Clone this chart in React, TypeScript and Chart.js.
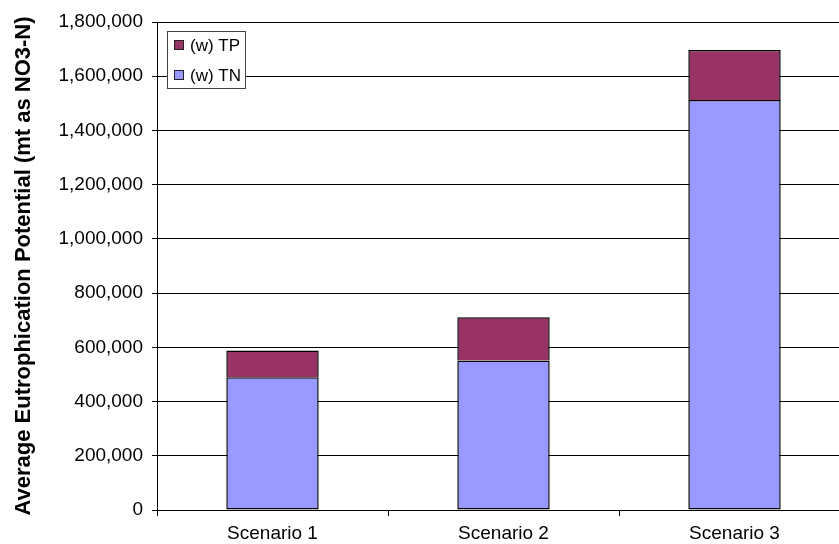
import React, { useEffect, useRef } from "react";
import { Chart, registerables } from "chart.js";

Chart.register(...registerables);

const categories = ["Scenario 1", "Scenario 2", "Scenario 3"];
const tnValues = [490000, 551000, 1512000];
const tpValues = [98000, 160000, 185000];
const seriesLabels = ["(w) TN", "(w) TP"];
const yTitle = "Average Eutrophication Potential (mt as NO3-N)";

const FONT = "'Liberation Sans', Arial, sans-serif";

const boxLegend = {
  id: "boxLegend",
  afterDraw(chart: any) {
    const { ctx, chartArea } = chart;
    const x = chartArea.left + 10;
    const y = chartArea.top + 9;
    const w = 78;
    const h = 57;
    ctx.save();
    ctx.fillStyle = "#ffffff";
    ctx.fillRect(x, y, w, h);
    ctx.strokeStyle = "#444444";
    ctx.lineWidth = 1;
    ctx.strokeRect(x + 0.5, y + 0.5, w, h);
    const items = chart.data.datasets.map((d: any) => ({ label: d.label, color: d.backgroundColor })).reverse();
    ctx.font = `17px ${FONT}`;
    ctx.textBaseline = "middle";
    items.forEach((it: any, i: number) => {
      const cy = y + 14 + i * 30;
      ctx.fillStyle = it.color;
      ctx.fillRect(x + 7, cy - 5, 10, 10);
      ctx.strokeStyle = "#222";
      ctx.strokeRect(x + 7.5, cy - 4.5, 9, 9);
      ctx.fillStyle = "#000";
      ctx.fillText(it.label, x + 23, cy + 1);
    });
    ctx.restore();
  },
};

export default function App() {
  const ref = useRef<HTMLCanvasElement>(null);
  useEffect(() => {
    if (!ref.current) return;
    const chart = new Chart(ref.current, {
      type: "bar",
      data: {
        labels: categories,
        datasets: [
          {
            label: seriesLabels[0],
            data: tnValues,
            backgroundColor: "#9999FF",
            borderColor: "#000000",
            borderWidth: 1.5,
            borderSkipped: false,
          },
          {
            label: seriesLabels[1],
            data: tpValues,
            backgroundColor: "#993366",
            borderColor: "#000000",
            borderWidth: 1.5,
            borderSkipped: "start",
          },
        ],
      },
      plugins: [boxLegend],
      options: {
        responsive: false,
        animation: false,
        maintainAspectRatio: false,
        layout: { padding: { top: 22, right: 10, left: 0, bottom: 0 } },
        plugins: { legend: { display: false }, tooltip: { enabled: false } },
        datasets: { bar: { categoryPercentage: 1, barPercentage: 0.4 } },
        scales: {
          x: {
            stacked: true,
            grid: {
              display: true,
              offset: true,
              drawOnChartArea: false,
              drawTicks: true,
              tickLength: 6,
              color: "#000",
            },
            border: { color: "#000", width: 1 },
            ticks: { color: "#000", font: { family: FONT, size: 19 }, padding: 6 },
            afterFit: (s: any) => {
              s.height = 34;
            },
          },
          y: {
            stacked: true,
            min: 0,
            max: 1800000,
            grid: { color: "#000", tickLength: 5, drawTicks: true },
            border: { color: "#000", width: 1 },
            ticks: {
              stepSize: 200000,
              color: "#000",
              font: { family: FONT, size: 19 },
              padding: 9,
              callback: (v: any) => Number(v).toLocaleString("en-US"),
            },
            title: {
              display: true,
              text: yTitle,
              color: "#000",
              font: { family: FONT, size: 22, weight: "bold" },
              padding: { top: 11, bottom: 0 },
            },
            afterFit: (s: any) => {
              s.width = 157;
            },
          },
        },
      },
    });
    return () => chart.destroy();
  }, []);
  return (
    <div style={{ position: "fixed", left: 0, top: 0, width: 860, height: 544, background: "#fff" }}>
      <canvas ref={ref} width={860} height={544} style={{ display: "block" }} />
    </div>
  );
}
